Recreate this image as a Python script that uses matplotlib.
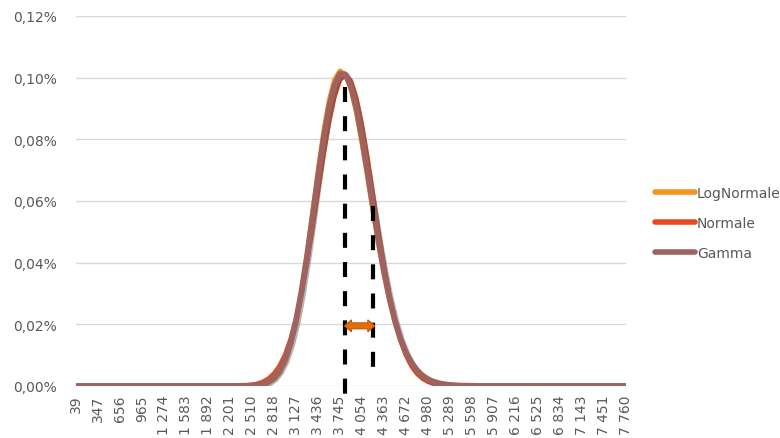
import numpy as np
import matplotlib
matplotlib.use("Agg")
import matplotlib.pyplot as plt
from matplotlib.patches import Polygon
import matplotlib.patheffects as pe

# ---- data ----
tick_labels = ["39", "347", "656", "965", "1 274", "1 583", "1 892", "2 201", "2 510",
               "2 818", "3 127", "3 436", "3 745", "4 054", "4 363", "4 672", "4 980",
               "5 289", "5 598", "5 907", "6 216", "6 525", "6 834", "7 143", "7 451", "7 760"]
tick_values = [39, 347, 656, 965, 1274, 1583, 1892, 2201, 2510, 2818, 3127, 3436, 3745,
               4054, 4363, 4672, 4980, 5289, 5598, 5907, 6216, 6525, 6834, 7143, 7451, 7760]
n_points = 101         # categories (4 per labelled tick)
first_nonzero = 28     # index of first listed value below; all other categories are 0

# densities (units of 1e-4) for categories 28..72
normale_mid = [0.0023, 0.0050, 0.0104, 0.0211, 0.0412, 0.0773, 0.1396, 0.2427, 0.4060,
               0.6542, 1.0136, 1.5120, 2.1714, 3.0006, 3.9923, 5.1114, 6.2997, 7.4744,
               8.5338, 9.3784, 9.9200, 10.0998, 9.8975, 9.3357, 8.4758, 7.4067, 6.2300,
               5.0422, 3.9288, 2.9468, 2.1274, 1.4781, 0.9884, 0.6364, 0.3943, 0.2351,
               0.1350, 0.0745, 0.0396, 0.0203, 0.0100, 0.0047, 0.0022, 0.0009, 0.0004]
lognormale_mid = [0.0000, 0.0000, 0.0004, 0.0014, 0.0047, 0.0143, 0.0387, 0.0941, 0.2069,
                  0.4159, 0.7677, 1.3107, 2.0802, 3.0853, 4.2955, 5.636, 6.998, 8.252,
                  9.267, 9.946, 10.228, 10.104, 9.612, 8.825, 7.835, 6.741, 5.630,
                  4.570, 3.613, 2.787, 2.099, 1.545, 1.114, 0.787, 0.546, 0.372,
                  0.249, 0.164, 0.106, 0.068, 0.043, 0.027, 0.016, 0.010, 0.006]
gamma_mid = [0.0008, 0.0017, 0.0038, 0.0080, 0.0170, 0.0355, 0.0726, 0.1440, 0.2738,
             0.4960, 0.8503, 1.3783, 2.1108, 3.0568, 4.1936, 5.4597, 6.7634, 7.9907,
             9.0206, 9.7553, 10.1245, 10.1026, 9.7079, 8.9966, 8.0503, 6.9647, 5.8316,
             4.7287, 3.7191, 2.8407, 2.1085, 1.5225, 1.0718, 0.7364, 0.4950, 0.3260,
             0.2107, 0.1339, 0.0837, 0.0520, 0.0319, 0.0195, 0.0114, 0.0069, 0.0041]

mean_value = 3820      # first dashed line
sigma_value = 4215     # mean + 1 sd, second dashed line
mean_line_top = 0.00097
sigma_line_top = 0.000584
arrow_level = 0.000195

series_names = ["LogNormale", "Normale", "Gamma"]
series_colors = ["#F7941D", "#E64A1E", "#A0625E"]


def full(mid):
    arr = np.zeros(n_points)
    arr[first_nonzero:first_nonzero + len(mid)] = np.array(mid) * 1e-4
    return arr


series = [full(lognormale_mid), full(normale_mid), full(gamma_mid)]
idx = np.arange(n_points)
tick_idx = np.arange(0, n_points, 4)

fig = plt.figure(figsize=(7.8, 4.39), dpi=100)
ax = fig.add_axes([0.0974, 0.1185, 0.7051, 0.8428])

grid_color = "#D9D9D9"
for y in np.arange(0.0002, 0.00121, 0.0002):
    ax.axhline(y, color=grid_color, lw=1.0, zorder=0)
ax.axhline(0, color=grid_color, lw=1.0, zorder=0)

widths = [3.2, 3.2, 4.2]
handles = []
for vals, name, col, w in zip(series, series_names, series_colors, widths):
    eff = None
    if name == "Gamma":
        eff = [pe.SimpleLineShadow(offset=(1.2, -1.2), shadow_color="#555555", alpha=0.45),
               pe.Normal()]
    h, = ax.plot(idx, vals, color=col, lw=w, solid_capstyle="round",
                 solid_joinstyle="round", zorder=3, path_effects=eff, label=name)
    handles.append(h)

ax.set_xlim(0, n_points - 1)
ax.set_ylim(0, 0.0012)
yt = np.arange(0, 0.00121, 0.0002)
ax.set_yticks(yt)
ax.set_yticklabels([f"{v*100:.2f}%".replace(".", ",") for v in yt])
ax.set_xticks(tick_idx)
ax.set_xticklabels(tick_labels, rotation=90, va="top", ha="center")
ax.tick_params(axis="both", length=0, colors="#595959", labelsize=10)
ax.tick_params(axis="x", pad=6)
ax.tick_params(axis="y", pad=14)
for s in ax.spines.values():
    s.set_visible(False)

# dashed reference lines
mean_pos = np.interp(mean_value, tick_values, tick_idx)
sigma_pos = np.interp(sigma_value, tick_values, tick_idx)
dash = (0, (3.6, 3.4))
ax.plot([mean_pos, mean_pos], [mean_line_top, -0.000033], color="black", lw=3,
        linestyle=dash, clip_on=False, zorder=5)
ax.plot([sigma_pos, sigma_pos], [sigma_line_top, 0.000022], color="black", lw=3,
        linestyle=dash, clip_on=False, zorder=5)

# orange double arrow between the lines
px_x = (n_points - 1) / 550.0
px_y = 0.0012 / 370.0
hl = 7 * px_x
hh = 6 * px_y
bh = 3 * px_y
x0, x1 = mean_pos - 0.15, sigma_pos + 0.25
pts = [(x0, arrow_level), (x0 + hl, arrow_level + hh), (x0 + hl, arrow_level + bh),
       (x1 - hl, arrow_level + bh), (x1 - hl, arrow_level + hh), (x1, arrow_level),
       (x1 - hl, arrow_level - hh), (x1 - hl, arrow_level - bh), (x0 + hl, arrow_level - bh),
       (x0 + hl, arrow_level - hh)]
ax.add_patch(Polygon(pts, closed=True, facecolor="#E46C0A", edgecolor="#C05A08",
                     lw=0.8, zorder=6))

leg = fig.legend(handles=handles, loc="upper left", bbox_to_anchor=(0.832, 0.587),
                 frameon=False, fontsize=10, handlelength=2.9, handletextpad=0.15,
                 labelspacing=1.16, borderaxespad=0)
for t in leg.get_texts():
    t.set_color("#595959")
for lh in leg.get_lines():
    lh.set_linewidth(4)
    lh.set_path_effects([])

fig.savefig("out.png", dpi=100)
